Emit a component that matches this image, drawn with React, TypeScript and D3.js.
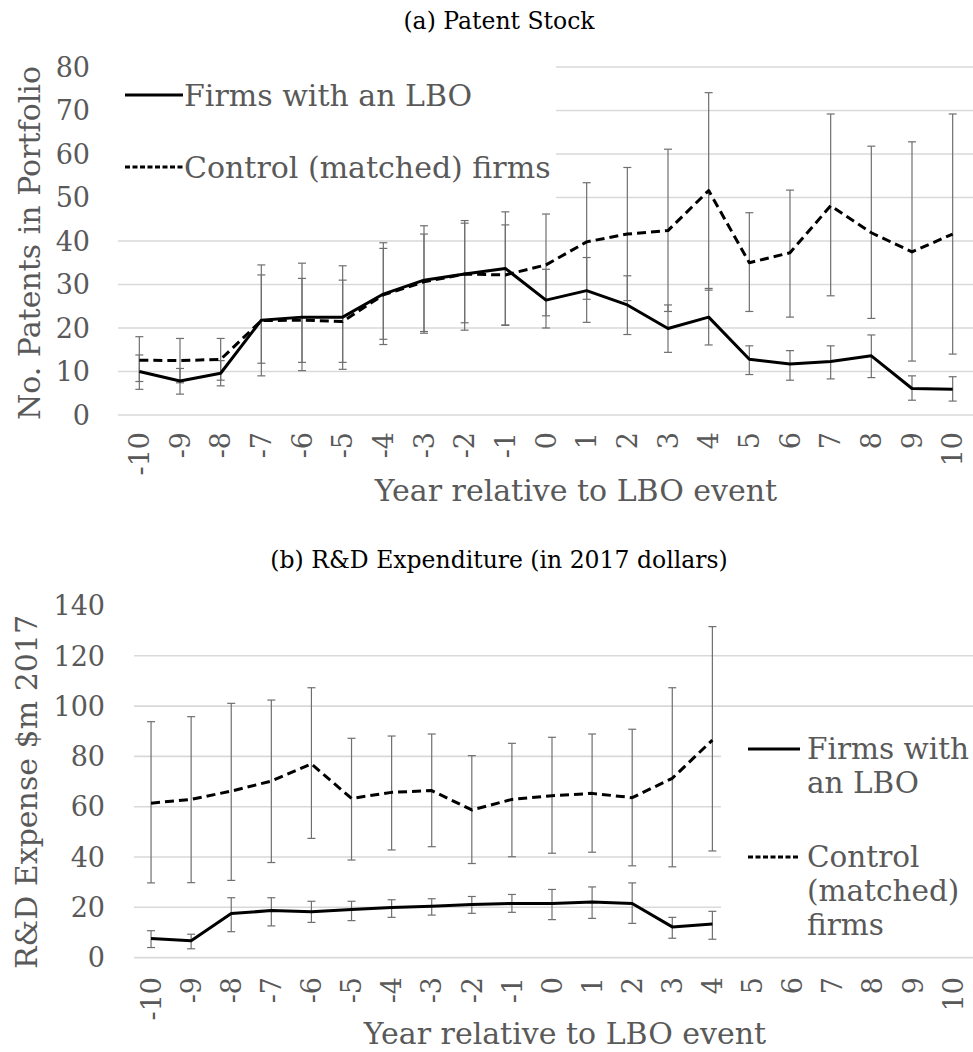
import React from 'react';
import * as d3 from 'd3';

const years = ['-10', '-9', '-8', '-7', '-6', '-5', '-4', '-3', '-2', '-1', '0', '1', '2', '3', '4', '5', '6', '7', '8', '9', '10'];

// (a) patent stock
const patentTicks = [0, 10, 20, 30, 40, 50, 60, 70, 80];
const patentLbo = [10.0, 7.8, 9.6, 21.8, 22.5, 22.5, 27.8, 31.0, 32.4, 33.7, 26.4, 28.6, 25.3, 19.9, 22.5, 12.8, 11.7, 12.3, 13.6, 6.1, 5.9];
const patentLboLow = [5.9, 4.8, 6.7, 9.0, 10.2, 10.5, 16.2, 18.8, 19.5, 20.7, 20.0, 21.3, 18.5, 14.4, 16.1, 9.3, 8.0, 8.3, 8.6, 3.4, 3.2];
const patentLboHigh = [13.8, 10.7, 12.5, 34.5, 34.9, 34.3, 39.6, 43.5, 44.7, 46.7, 33.5, 36.2, 32.0, 25.3, 29.1, 15.9, 14.8, 15.9, 18.4, 9.0, 8.8];
const patentCtrl = [12.6, 12.5, 12.8, 21.7, 21.8, 21.5, 27.6, 30.6, 32.4, 32.2, 34.5, 39.8, 41.6, 42.4, 51.6, 35.0, 37.3, 48.1, 41.9, 37.5, 41.6];
const patentCtrlLow = [7.7, 7.4, 8.0, 11.9, 12.1, 12.1, 17.4, 19.2, 21.2, 20.6, 22.8, 26.6, 26.3, 23.8, 28.7, 23.8, 22.5, 27.4, 22.2, 12.4, 14.0];
const patentCtrlHigh = [18.0, 17.6, 17.6, 32.2, 31.4, 31.0, 38.3, 41.6, 44.1, 43.7, 46.2, 53.4, 56.9, 61.1, 74.1, 46.5, 51.7, 69.2, 61.8, 62.8, 69.2];

// (b) R&D expenditure, data only for -10..4
const rdTicks = [0, 20, 40, 60, 80, 100, 120, 140];
const rdLbo = [7.6, 6.7, 17.5, 18.7, 18.2, 19.1, 19.9, 20.4, 21.1, 21.5, 21.5, 22.1, 21.5, 12.2, 13.4];
const rdLboLow = [4.0, 3.5, 10.3, 12.6, 14.0, 14.7, 16.0, 16.9, 17.6, 18.0, 15.1, 15.6, 13.6, 7.7, 7.3];
const rdLboHigh = [10.7, 9.3, 23.8, 23.8, 22.4, 22.4, 23.0, 23.4, 24.3, 25.1, 27.1, 28.1, 29.7, 16.0, 18.4];
const rdCtrl = [61.4, 62.9, 66.2, 70.2, 77.0, 63.3, 65.7, 66.4, 58.7, 62.9, 64.4, 65.3, 63.6, 71.3, 86.5];
const rdCtrlLow = [29.7, 29.8, 30.7, 37.8, 47.4, 38.8, 42.8, 44.1, 37.4, 40.1, 41.5, 41.9, 36.5, 36.1, 42.4];
const rdCtrlHigh = [93.8, 95.8, 101.1, 102.4, 107.3, 87.2, 88.1, 88.9, 80.3, 85.2, 87.6, 88.9, 90.8, 107.3, 131.6];

const FONT = '"DejaVu Serif", serif';
const GREY = '#595959';
const GRID = '#d9d9d9';
const BAR = '#6f6f6f';

type Panel = {
  title: string;
  titleY: number;
  x0: number;
  x1: number;
  gridX0: number;
  y0: number;
  yTop: number;
  maxV: number;
  ticks: number[];
  gridTicks: number[];
  tickRight: number;
  tickLabelTop: number;
  xTitle: [number, number];
  yTitle: string;
  yTitlePos: [number, number];
  series: { v: number[]; lo: number[]; hi: number[]; dash?: string }[];
  cover: [number, number, number, number];
  legend: React.ReactNode;
};

function ChartPanel({ p }: { p: Panel }) {
  const x = d3.scaleBand<string>().domain(years).range([p.x0, p.x1]).padding(0);
  const y = d3.scaleLinear().domain([0, p.maxV]).range([p.y0, p.yTop]);
  const cx = (i: number) => (x(years[i]) as number) + x.bandwidth() / 2;
  const line = d3
    .line<number>()
    .x((_, i) => cx(i))
    .y(d => y(d));

  return (
    <g>
      <text x={499} y={p.titleY} textAnchor="middle" fontSize={23.5} fill="#000">
        {p.title}
      </text>
      {p.gridTicks.map(t => (
        <line key={'g' + t} x1={p.gridX0} x2={973} y1={y(t)} y2={y(t)} stroke={GRID} strokeWidth={1.6} />
      ))}
      <rect x={p.cover[0]} y={p.cover[1]} width={p.cover[2]} height={p.cover[3]} fill="#fff" />
      {p.ticks.map(t => (
        <text key={'t' + t} x={p.tickRight} y={y(t)} dy="0.36em" textAnchor="end" fontSize={27} fill={GREY}>
          {t}
        </text>
      ))}
      {years.map((yr, i) => (
        <text
          key={'x' + yr}
          transform={`translate(${cx(i)},${p.tickLabelTop}) rotate(-90)`}
          dy="0.36em"
          textAnchor="end"
          fontSize={27}
          fill={GREY}
        >
          {yr}
        </text>
      ))}
      <text x={p.xTitle[0]} y={p.xTitle[1]} textAnchor="middle" fontSize={30} fill={GREY}>
        Year relative to LBO event
      </text>
      <text
        transform={`translate(${p.yTitlePos[0]},${p.yTitlePos[1]}) rotate(-90)`}
        textAnchor="middle"
        fontSize={30}
        fill={GREY}
      >
        {p.yTitle}
      </text>
      {p.series.map((s, k) => (
        <g key={'e' + k} stroke={BAR} strokeWidth={1.2}>
          {s.v.map((_, i) => (
            <g key={i}>
              <line x1={cx(i)} x2={cx(i)} y1={y(s.lo[i])} y2={y(s.hi[i])} />
              <line x1={cx(i) - 4} x2={cx(i) + 4} y1={y(s.lo[i])} y2={y(s.lo[i])} />
              <line x1={cx(i) - 4} x2={cx(i) + 4} y1={y(s.hi[i])} y2={y(s.hi[i])} />
            </g>
          ))}
        </g>
      ))}
      {p.series.map((s, k) => (
        <path
          key={'l' + k}
          d={line(s.v) || ''}
          fill="none"
          stroke="#000"
          strokeWidth={3}
          strokeDasharray={s.dash}
          strokeLinejoin="round"
        />
      ))}
      {p.legend}
    </g>
  );
}

export default function App() {
  const top: Panel = {
    title: '(a) Patent Stock',
    titleY: 29,
    x0: 119,
    x1: 973,
    gridX0: 118,
    y0: 415,
    yTop: 67,
    maxV: 80,
    ticks: patentTicks,
    gridTicks: patentTicks,
    tickRight: 90,
    tickLabelTop: 432,
    xTitle: [576, 501],
    yTitle: 'No. Patents in Portfolio',
    yTitlePos: [40, 243],
    series: [
      { v: patentCtrl, lo: patentCtrlLow, hi: patentCtrlHigh, dash: '9,5' },
      { v: patentLbo, lo: patentLboLow, hi: patentLboHigh },
    ],
    cover: [117, 55, 439, 150],
    legend: (
      <g fontSize={30} fill={GREY}>
        <line x1={125} x2={183} y1={95} y2={95} stroke="#000" strokeWidth={3} />
        <text x={184} y={95} dy="0.36em">Firms with an LBO</text>
        <line x1={125} x2={183} y1={167} y2={167} stroke="#000" strokeWidth={3} strokeDasharray="5,2.5" />
        <text x={184} y={167} dy="0.36em">Control (matched) firms</text>
      </g>
    ),
  };

  const bottom: Panel = {
    title: '(b) R&D Expenditure (in 2017 dollars)',
    titleY: 568,
    x0: 131,
    x1: 973,
    gridX0: 134,
    y0: 957.6,
    yTop: 605.5,
    maxV: 140,
    ticks: rdTicks,
    gridTicks: rdTicks.slice(0, 7),
    tickRight: 105,
    tickLabelTop: 977,
    xTitle: [565, 1044],
    yTitle: 'R&D Expense $m 2017',
    yTitlePos: [37, 792],
    series: [
      { v: rdCtrl, lo: rdCtrlLow, hi: rdCtrlHigh, dash: '9,5' },
      { v: rdLbo, lo: rdLboLow, hi: rdLboHigh },
    ],
    cover: [721, 738, 260, 208],
    legend: (
      <g fontSize={29.5} fill={GREY}>
        <line x1={748} x2={800} y1={749} y2={749} stroke="#000" strokeWidth={3} />
        <text x={807} y={759}>Firms with</text>
        <text x={807} y={793}>an LBO</text>
        <line x1={748} x2={800} y1={857} y2={857} stroke="#000" strokeWidth={3} strokeDasharray="5,2.5" />
        <text x={807} y={867}>Control</text>
        <text x={807} y={901}>(matched)</text>
        <text x={807} y={935}>firms</text>
      </g>
    ),
  };

  return (
    <svg
      width={973}
      height={1052}
      style={{ position: 'absolute', left: 0, top: 0, background: '#fff' }}
      fontFamily={FONT}
    >
      <ChartPanel p={top} />
      <ChartPanel p={bottom} />
    </svg>
  );
}
